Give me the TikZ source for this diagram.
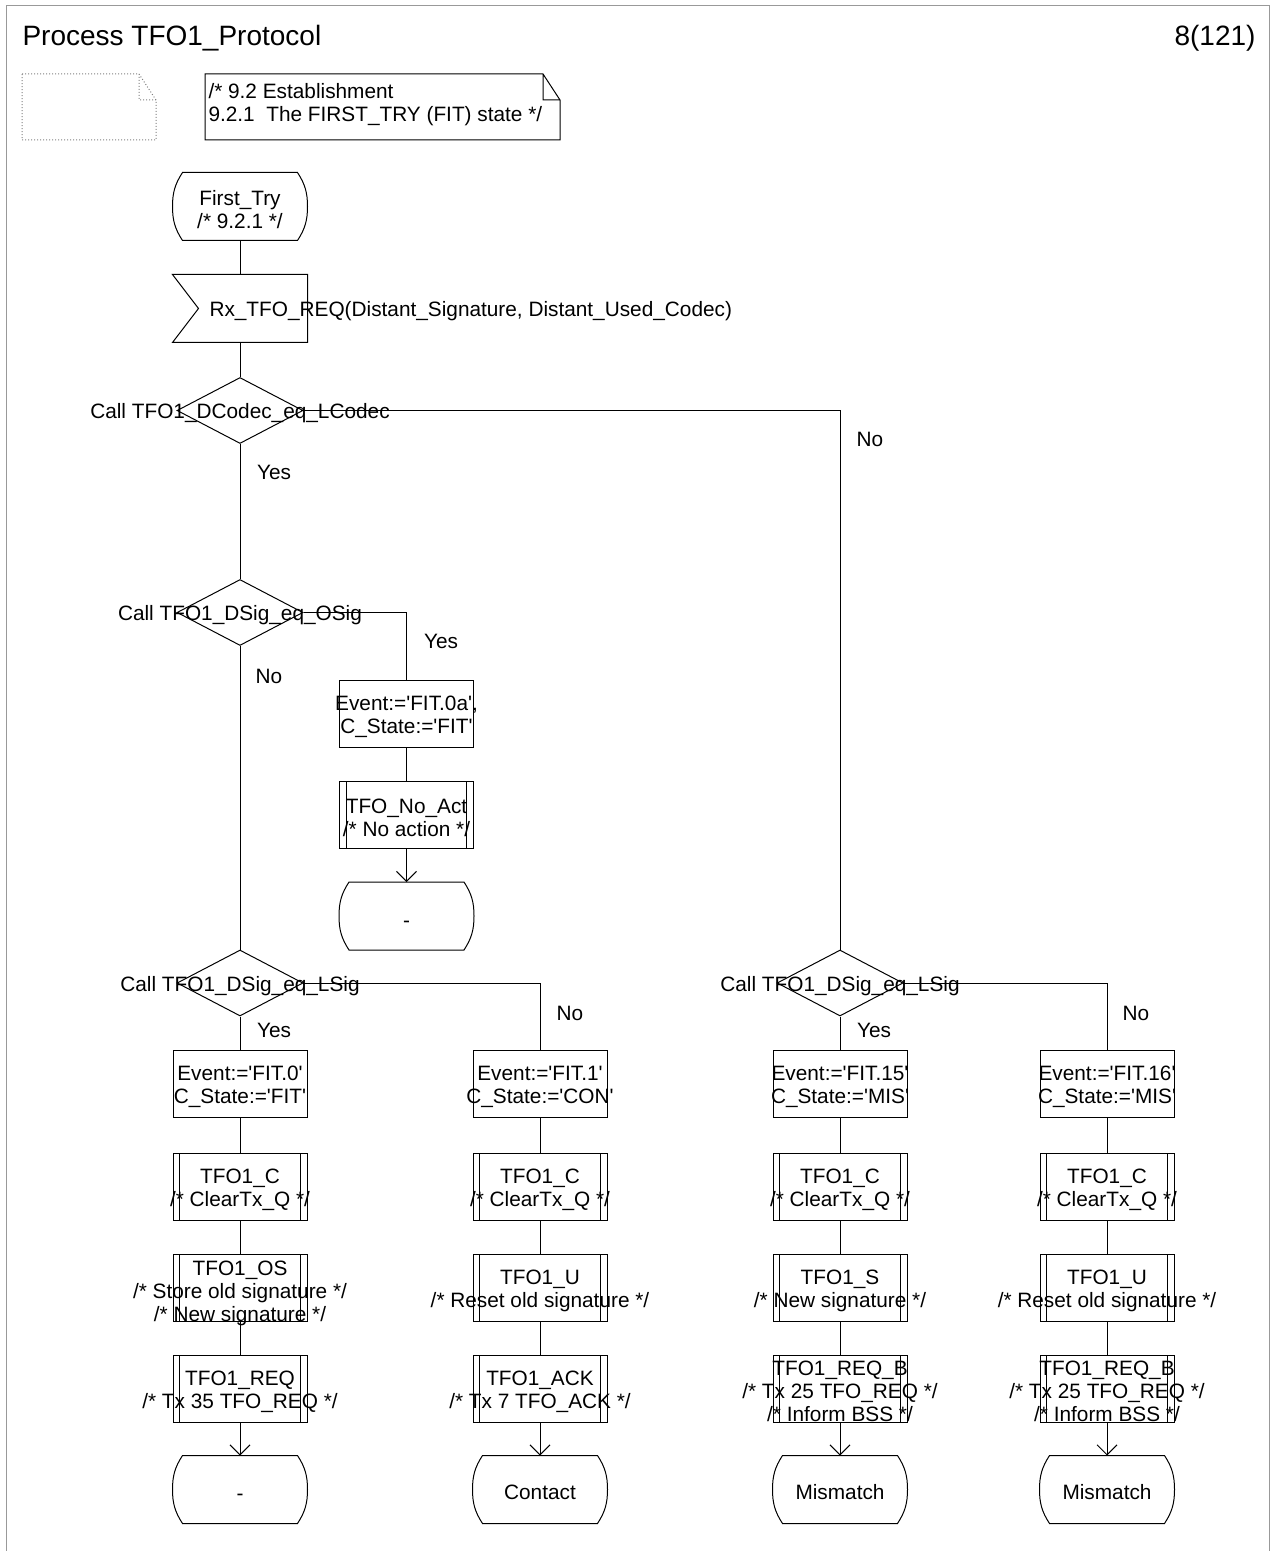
\documentclass[tikz,border=0pt]{standalone}
\usepackage{fontspec}
\setmainfont{Liberation Sans}
\usetikzlibrary{shapes.geometric,arrows.meta}
\newcommand\fs{\fontsize{10.4}{11.6}\selectfont}
\newcommand\q{\textquotesingle}
\newcommand\stshape[1]{\draw ([xshift=5pt]#1.north west) -- ([xshift=-5pt]#1.north east) to[out=-57,in=90] (#1.east) to[out=-90,in=57] ([xshift=-5pt]#1.south east) -- ([xshift=5pt]#1.south west) to[out=123,in=-90] (#1.west) to[out=90,in=-123] ([xshift=5pt]#1.north west) -- ([xshift=6pt]#1.north west);}
\newcommand\inshape[1]{\draw (#1.north west) -- (#1.north east) -- (#1.south east) -- (#1.south west) -- ([xshift=13pt]#1.west) -- cycle;}
\begin{document}
\begin{tikzpicture}[x=0.5pt,y=0.5pt, line width=0.5pt,
  lbl/.style={font=\fs, align=center, inner sep=0pt, yshift=-1.5pt},
  taskbox/.style={draw, rectangle, minimum width=67pt, minimum height=33.5pt, inner sep=0pt},
  procbox/.style={taskbox, path picture={
     \draw ([xshift=3.3pt]path picture bounding box.north west) -- ([xshift=3.3pt]path picture bounding box.south west)
           ([xshift=-3.3pt]path picture bounding box.north east) -- ([xshift=-3.3pt]path picture bounding box.south east);}},
  decbox/.style={draw, diamond, minimum width=63pt, minimum height=33pt, inner sep=0pt},
  statebox/.style={rectangle, minimum width=67pt, minimum height=33.5pt, inner sep=0pt},
  flow/.style={-{Straight Barb[length=5pt,width=10pt]}},
  yn/.style={font=\fs, inner sep=0pt}
]
\useasboundingbox (0,0) rectangle (1274,-1551);
% frame
\draw[gray!80] (6,-1551) -- (6,-6) -- (1269,-6) -- (1269,-1551);
\node[anchor=west, inner sep=0pt, font=\fontsize{14}{16}\selectfont] (title) at (22,-38) {Process TFO1\_Protocol};
\node[anchor=east, inner sep=0pt, font=\fontsize{14}{16}\selectfont] (page) at (1256,-38) {8(121)};
% notes
\draw[gray, densely dotted] (22,-74) -- (139,-74) -- (156,-100) -- (156,-140) -- (22,-140) -- cycle (139,-74) -- (139,-100) -- (156,-100);
\draw (205,-74) -- (543,-74) -- (560,-100) -- (560,-140) -- (205,-140) -- cycle (543,-74) -- (543,-100) -- (560,-100);
\node[font=\fs, inner sep=0pt, align=left, anchor=west] (note2) at (208,-105) {/* 9.2 Establishment\\9.2.1\ \ The FIRST\_TRY (FIT) state */};

% start
\node[statebox, label={[lbl]center:{First\_Try\\/* 9.2.1 */}}] (s0) at (240,-206.5) {};
\stshape{s0}
\node[statebox] (in1) at (240,-308.5) {};
\inshape{in1}
\node[font=\fs, inner sep=0pt, anchor=west] (in1t) at (209,-311) {Rx\_TFO\_REQ(Distant\_Signature, Distant\_Used\_Codec)};
\node[decbox, label={[lbl]center:{Call TFO1\_DCodec\_eq\_LCodec}}] (d1) at (240,-410.5) {};
\node[decbox, label={[lbl]center:{Call TFO1\_DSig\_eq\_OSig}}] (d2) at (240,-612.5) {};
\node[taskbox, label={[lbl]center:{Event:=\q FIT.0a\q,\\C\_State:=\q FIT\q}}] (t0a) at (406.5,-714) {};
\node[procbox, label={[lbl]center:{TFO\_No\_Act\\/* No action */}}] (p0a) at (406.5,-815) {};
\node[statebox, label={[lbl,yshift=-2.5pt]center:{-}}] (n0a) at (406.5,-916) {};
\stshape{n0a}
\node[decbox, label={[lbl]center:{Call TFO1\_DSig\_eq\_LSig}}] (d3) at (240,-983) {};
\node[decbox, label={[lbl]center:{Call TFO1\_DSig\_eq\_LSig}}] (d4) at (840,-983) {};

% column 1
\node[taskbox, label={[lbl]center:{Event:=\q FIT.0\q\\C\_State:=\q FIT\q}}] (t0) at (240,-1084) {};
\node[procbox, label={[lbl]center:{TFO1\_C\\/* ClearTx\_Q */}}] (p1c) at (240,-1186.5) {};
\node[procbox, label={[lbl,yshift=-1.5pt]center:{TFO1\_OS\\/* Store old signature */\\/* New signature */}}] (p1os) at (240,-1287.5) {};
\node[procbox, label={[lbl]center:{TFO1\_REQ\\/* Tx 35 TFO\_REQ */}}] (p1r) at (240,-1388.5) {};
\node[statebox, label={[lbl,yshift=-2.5pt]center:{-}}] (n1) at (240,-1489.5) {};
\stshape{n1}
% column 2
\node[taskbox, label={[lbl]center:{Event:=\q FIT.1\q\\C\_State:=\q CON\q}}] (t1) at (540,-1084) {};
\node[procbox, label={[lbl]center:{TFO1\_C\\/* ClearTx\_Q */}}] (p2c) at (540,-1186.5) {};
\node[procbox, label={[lbl]center:{TFO1\_U\\/* Reset old signature */}}] (p2u) at (540,-1287.5) {};
\node[procbox, label={[lbl]center:{TFO1\_ACK\\/* Tx 7 TFO\_ACK */}}] (p2a) at (540,-1388.5) {};
\node[statebox, label={[lbl]center:{Contact}}] (n2) at (540,-1489.5) {};
\stshape{n2}
% column 3
\node[taskbox, label={[lbl]center:{Event:=\q FIT.15\q\\C\_State:=\q MIS\q}}] (t15) at (840,-1084) {};
\node[procbox, label={[lbl]center:{TFO1\_C\\/* ClearTx\_Q */}}] (p3c) at (840,-1186.5) {};
\node[procbox, label={[lbl]center:{TFO1\_S\\/* New signature */}}] (p3s) at (840,-1287.5) {};
\node[procbox, label={[lbl]center:{TFO1\_REQ\_B\\/* Tx 25 TFO\_REQ */\\/* Inform BSS */}}] (p3r) at (840,-1388.5) {};
\node[statebox, label={[lbl]center:{Mismatch}}] (n3) at (840,-1489.5) {};
\stshape{n3}
% column 4
\node[taskbox, label={[lbl]center:{Event:=\q FIT.16\q\\C\_State:=\q MIS\q}}] (t16) at (1107,-1084) {};
\node[procbox, label={[lbl]center:{TFO1\_C\\/* ClearTx\_Q */}}] (p4c) at (1107,-1186.5) {};
\node[procbox, label={[lbl]center:{TFO1\_U\\/* Reset old signature */}}] (p4u) at (1107,-1287.5) {};
\node[procbox, label={[lbl]center:{TFO1\_REQ\_B\\/* Tx 25 TFO\_REQ */\\/* Inform BSS */}}] (p4r) at (1107,-1388.5) {};
\node[statebox, label={[lbl]center:{Mismatch}}] (n4) at (1107,-1489.5) {};
\stshape{n4}

% connectors
\draw (s0.south) -- (in1.north);
\draw (in1.south) -- (d1.north);
\draw (d1.east) -| (d4.north);
\draw (d1.south) -- (d2.north);
\draw (d2.east) -| (t0a.north);
\draw (t0a) -- (p0a);
\draw[flow] (p0a) -- (n0a.north);
\draw (d2.south) -- (d3.north);
\draw (d3.east) -| (t1.north);
\draw (d3.south) -- (t0.north);
\draw (d4.east) -| (t16.north);
\draw (d4.south) -- (t15.north);
\draw (t0) -- (p1c); \draw (p1c) -- (p1os); \draw (p1os) -- (p1r); \draw[flow] (p1r) -- (n1.north);
\draw (t1) -- (p2c); \draw (p2c) -- (p2u); \draw (p2u) -- (p2a); \draw[flow] (p2a) -- (n2.north);
\draw (t15) -- (p3c); \draw (p3c) -- (p3s); \draw (p3s) -- (p3r); \draw[flow] (p3r) -- (n3.north);
\draw (t16) -- (p4c); \draw (p4c) -- (p4u); \draw (p4u) -- (p4r); \draw[flow] (p4r) -- (n4.north);

% yes / no labels
\node[yn] (no1) at (870,-439) {No};
\node[yn] (yes1) at (274,-472) {Yes};
\node[yn] (yes2) at (441,-641) {Yes};
\node[yn] (no2) at (269,-676) {No};
\node[yn] (no3) at (570,-1013) {No};
\node[yn] (yes3) at (274,-1030) {Yes};
\node[yn] (no4) at (1136,-1013) {No};
\node[yn] (yes4) at (874,-1030) {Yes};
\end{tikzpicture}
\end{document}
